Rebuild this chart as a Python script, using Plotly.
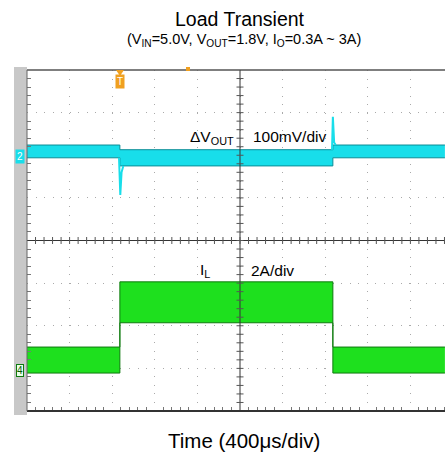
import plotly.graph_objects as go

# ---- data (scope divisions) ----
t_div = [0, 2.18, 2.18, 7.18, 7.18, 9.81]            # time, divisions (400us/div)
vout_upper = [6.24, 6.24, 6.13, 6.13, 6.24, 6.24]    # ΔVout band upper edge (div)
vout_lower = [5.94, 5.94, 5.75, 5.75, 5.94, 5.94]    # ΔVout band lower edge (div)
vout_spike_t = [2.16, 2.19, 2.22, 2.26]
vout_spike_v = [5.94, 5.07, 5.60, 5.75]
vout_spike2_t = [7.16, 7.18, 7.21, 7.25]
vout_spike2_v = [6.13, 6.90, 6.30, 6.24]
il_upper = [1.50, 1.50, 3.03, 3.03, 1.50, 1.50]      # IL band upper edge (div)
il_lower = [0.89, 0.89, 2.07, 2.07, 0.89, 0.89]      # IL band lower edge (div)

W, H = 445, 461
PX = 42.6
x0, y_top, y_bot = 27, 70, 411
xr = (W - x0) / PX

CYAN = "#18DEEA"
CYAN_D = "#0B8C96"
GREEN = "#1EE01E"
GREEN_D = "#0E7A0E"

fig = go.Figure()

fig.add_trace(go.Scatter(x=t_div, y=vout_lower, mode="lines", line=dict(color=CYAN_D, width=1), hoverinfo="skip"))
fig.add_trace(go.Scatter(x=t_div, y=vout_upper, mode="lines", line=dict(color=CYAN_D, width=1),
                         fill="tonexty", fillcolor=CYAN, hoverinfo="skip"))
fig.add_trace(go.Scatter(x=vout_spike_t, y=vout_spike_v, mode="lines", line=dict(color=CYAN, width=2), hoverinfo="skip"))
fig.add_trace(go.Scatter(x=vout_spike2_t, y=vout_spike2_v, mode="lines", line=dict(color=CYAN, width=2), hoverinfo="skip"))
fig.add_trace(go.Scatter(x=t_div, y=il_lower, mode="lines", line=dict(color=GREEN_D, width=1), hoverinfo="skip"))
fig.add_trace(go.Scatter(x=t_div, y=il_upper, mode="lines", line=dict(color=GREEN_D, width=1),
                         fill="tonexty", fillcolor=GREEN, hoverinfo="skip"))

shapes = []
# left gray strip
shapes.append(dict(type="rect", xref="paper", yref="paper", x0=14 / W, x1=x0 / W,
                   y0=(H - 415) / H, y1=(H - 67) / H, fillcolor="#C8C8C8", line=dict(width=0), layer="below"))
# center cross lines
shapes.append(dict(type="line", xref="x", yref="y", x0=5, x1=5, y0=0, y1=8, line=dict(color="#333", width=1)))
shapes.append(dict(type="line", xref="x", yref="y", x0=0, x1=xr, y0=4, y1=4, line=dict(color="#333", width=1)))
tk = 3.5 / PX
for i in range(1, 40):
    v = i * 0.2
    shapes.append(dict(type="line", xref="x", yref="y", x0=5 - tk, x1=5 + tk, y0=v, y1=v,
                       line=dict(color="#555", width=1)))
for i in range(1, 50):
    v = i * 0.2
    if v < xr:
        shapes.append(dict(type="line", xref="x", yref="y", x0=v, x1=v, y0=4 - tk, y1=4 + tk,
                           line=dict(color="#555", width=1)))
# borders
shapes.append(dict(type="line", xref="paper", yref="paper", x0=x0 / W, x1=1, y0=(H - y_top) / H, y1=(H - y_top) / H,
                   line=dict(color="#555", width=1.5)))
shapes.append(dict(type="line", xref="paper", yref="paper", x0=x0 / W, x1=1, y0=(H - y_bot) / H, y1=(H - y_bot) / H,
                   line=dict(color="#333", width=2)))
shapes.append(dict(type="line", xref="paper", yref="paper", x0=x0 / W, x1=x0 / W, y0=(H - y_bot) / H, y1=(H - y_top) / H,
                   line=dict(color="#666", width=1)))
# small orange marker at top border
shapes.append(dict(type="rect", xref="paper", yref="paper", x0=186 / W, x1=190 / W, y0=(H - 71) / H, y1=(H - 67) / H,
                   fillcolor="#F0A020", line=dict(width=0)))
# trigger pointer
shapes.append(dict(type="path", xref="paper", yref="paper",
                   path=f"M {116/W} {(H-70)/H} L {124/W} {(H-70)/H} L {120/W} {(H-76)/H} Z",
                   fillcolor="#F0A020", line=dict(width=0)))

annotations = [
    dict(text="Load Transient", xref="paper", yref="paper", x=240 / W, y=(H - 19) / H, showarrow=False,
         font=dict(size=19.5, color="#000"), xanchor="center", yanchor="middle"),
    dict(text="(V<sub>IN</sub>=5.0V, V<sub>OUT</sub>=1.8V, I<sub>O</sub>=0.3A ~ 3A)", xref="paper", yref="paper",
         x=244 / W, y=(H - 40) / H, showarrow=False, font=dict(size=14.5, color="#000"), xanchor="center", yanchor="middle"),
    dict(text="Time (400μs/div)", xref="paper", yref="paper", x=244 / W, y=(H - 440) / H, showarrow=False,
         font=dict(size=20.5, color="#000"), xanchor="center", yanchor="middle"),
    dict(text="ΔV<sub>OUT</sub>", x=(188 - x0) / PX, y=(y_bot - 138) / PX, xref="x", yref="y", showarrow=False,
         font=dict(size=15.5, color="#000"), xanchor="left", yanchor="middle"),
    dict(text="100mV/div", x=(251 - x0) / PX, y=(y_bot - 137) / PX, xref="x", yref="y", showarrow=False,
         font=dict(size=15.5, color="#000"), xanchor="left", yanchor="middle"),
    dict(text="I<sub>L</sub>", x=(198 - x0) / PX, y=(y_bot - 271) / PX, xref="x", yref="y", showarrow=False,
         font=dict(size=15.5, color="#000"), xanchor="left", yanchor="middle"),
    dict(text="2A/div", x=(249 - x0) / PX, y=(y_bot - 271) / PX, xref="x", yref="y", showarrow=False,
         font=dict(size=15.5, color="#000"), xanchor="left", yanchor="middle"),
    dict(text="2", xref="paper", yref="paper", x=20 / W, y=(H - 157) / H, showarrow=False,
         font=dict(size=10, color="#fff"), bgcolor=CYAN, borderpad=1, xanchor="center", yanchor="middle"),
    dict(text="4", xref="paper", yref="paper", x=20 / W, y=(H - 370) / H, showarrow=False,
         font=dict(size=10, color="#0A5A0A"), bgcolor="#E8FFE8", bordercolor=GREEN_D, borderwidth=1, borderpad=0,
         xanchor="center", yanchor="middle"),
    dict(text="T", xref="paper", yref="paper", x=120 / W, y=(H - 82) / H, showarrow=False,
         font=dict(size=10, color="#fff"), bgcolor="#F0A020", borderpad=1, xanchor="center", yanchor="middle"),
]

fig.update_layout(
    width=W, height=H, margin=dict(l=0, r=0, t=0, b=0),
    paper_bgcolor="white", plot_bgcolor="white", showlegend=False,
    font=dict(family="Liberation Sans, Arial, sans-serif"),
    shapes=shapes, annotations=annotations,
    xaxis=dict(domain=[x0 / W, 1], range=[0, xr], dtick=1, showgrid=True, gridcolor="#AAA",
               griddash="1px,7.5px", gridwidth=1, zeroline=False, showticklabels=False,
               ticks="", minor=dict(dtick=0.2, ticks="inside", ticklen=4, tickcolor="#777"),
               showline=False, mirror="ticks"),
    yaxis=dict(domain=[(H - y_bot) / H, (H - y_top) / H], range=[0, 8], dtick=1, showgrid=True, gridcolor="#AAA",
               griddash="1px,7.5px", gridwidth=1, zeroline=False, showticklabels=False,
               ticks="", minor=dict(dtick=0.2, ticks="inside", ticklen=4, tickcolor="#777"),
               showline=False, mirror="ticks"),
)

fig.write_html("out.html")
